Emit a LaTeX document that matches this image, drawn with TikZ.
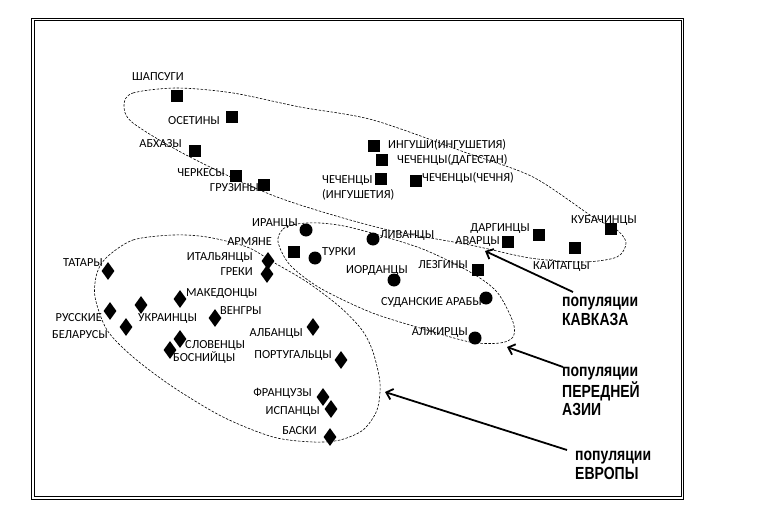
\documentclass[tikz,border=0pt]{standalone}
\usepackage{fontspec}
\setmainfont{Carlito}
\newfontfamily\calloutfont[FakeStretch=0.8]{Liberation Sans}
\usetikzlibrary{shapes.geometric,arrows.meta}

\begin{document}
\begin{tikzpicture}[x=1pt,y=-1pt,
  sq/.style={fill=black,rectangle,minimum size=12pt,inner sep=0pt},
  circ/.style={fill=black,circle,minimum size=13pt,inner sep=0pt},
  dia/.style={fill=black,diamond,minimum width=13pt,minimum height=18pt,inner sep=0pt},
  lab/.style={inner sep=0pt,font=\fontsize{12.3}{14}\selectfont,text height=7.9pt,text depth=0pt},
  labtwo/.style={inner sep=0pt,align=left,font=\fontsize{12.3}{15}\selectfont},
  hull/.style={dash pattern=on 2.5pt off 1.5pt,line width=0.6pt},
  callout/.style={inner sep=0pt,align=left,font=\calloutfont\bfseries\fontsize{17.5}{18.5}\selectfont},
  pointer/.style={line width=1.8pt,-{Straight Barb[length=6pt,width=11pt]}}]
  \useasboundingbox (0,0) rectangle (784,511);

  % frame
  \draw[line width=1pt] (31.5,18.5) rectangle (683.5,499);
  \draw[line width=1pt] (34,21) rectangle (681,496.5);

  % hulls
  \draw[hull] plot[smooth cycle] coordinates {(124,105) (133,93) (177,88) (233,93) (300,107)
    (373,120) (467,153) (533,177) (593,217) (617,230) (626,243) (617,257) (583,262)
    (530,258) (470,245) (380,228) (277,197) (190,157) (133,123)};
  \draw[hull] plot[smooth cycle] coordinates {(278,242) (283,229) (297,224) (320,223) (353,228)
    (420,248) (470,272) (497,292) (513,322) (513,337) (500,343) (470,342) (420,328)
    (370,312) (320,288) (290,265)};
  \draw[hull] plot[smooth cycle] coordinates {(107,257) (133,240) (173,235) (207,237) (247,247)
    (273,262) (307,282) (340,307) (362,330) (373,352) (380,383) (377,410) (363,430)
    (340,440) (313,442) (273,437) (223,417) (173,387) (133,357) (107,330) (95,297) (97,273)};

  % Caucasus
  \node[sq] (shapsug) at (177,96) {};
  \node[sq] (osetin) at (232,117) {};
  \node[sq] (abkhaz) at (195,151) {};
  \node[sq] (cherkes) at (236,176) {};
  \node[sq] (gruzin) at (264,185) {};
  \node[sq] (ingush) at (374,146) {};
  \node[sq] (chechDag) at (382,160) {};
  \node[sq] (chechIng) at (381,179) {};
  \node[sq] (chechChe) at (416,181) {};
  \node[sq] (dargin) at (539,235) {};
  \node[sq] (avar) at (508,242) {};
  \node[sq] (kubach) at (611,229) {};
  \node[sq] (kaitag) at (575,248) {};
  \node[sq] (lezgin) at (478,270) {};
  \node[sq] (armyan) at (294,252) {};

  \node[lab,anchor=west] (shapsugLab) at (132,77) {ШАПСУГИ};
  \node[lab,anchor=east] (osetinLab) at (220,121) {ОСЕТИНЫ};
  \node[lab,anchor=east] (abkhazLab) at (182,144) {АБХАЗЫ};
  \node[lab,anchor=east] (cherkesLab) at (225,173) {ЧЕРКЕСЫ};
  \node[lab,anchor=east] (gruzinLab) at (259,188) {ГРУЗИНЫ};
  \node[lab,anchor=west] (ingushLab) at (388,145) {ИНГУШИ(ИНГУШЕТИЯ)};
  \node[lab,anchor=west] (chechDagLab) at (397,160) {ЧЕЧЕНЦЫ(ДАГЕСТАН)};
  \node[labtwo,anchor=north west] (chechIngLab) at (322,175.5) {ЧЕЧЕНЦЫ\\(ИНГУШЕТИЯ)};
  \node[lab,anchor=west] (chechCheLab) at (422,178) {ЧЕЧЕНЦЫ(ЧЕЧНЯ)};
  \node[lab,anchor=east] (darginLab) at (530,228) {ДАРГИНЦЫ};
  \node[lab,anchor=east] (avarLab) at (500,241) {АВАРЦЫ};
  \node[lab,anchor=west] (kubachLab) at (571,220) {КУБАЧИНЦЫ};
  \node[lab,anchor=west] (kaitagLab) at (533,266) {КАЙТАГЦЫ};
  \node[lab,anchor=east] (lezginLab) at (468,265) {ЛЕЗГИНЫ};
  \node[lab,anchor=east] (armyanLab) at (272,242) {АРМЯНЕ};

  % Near East
  \node[circ] (iran) at (306,230) {};
  \node[circ] (livan) at (373,239) {};
  \node[circ] (turk) at (315,258) {};
  \node[circ] (iordan) at (394,280) {};
  \node[circ] (sudan) at (486,298) {};
  \node[circ] (alzhir) at (475,338) {};

  \node[lab,anchor=east] (iranLab) at (298,223) {ИРАНЦЫ};
  \node[lab,anchor=west] (livanLab) at (380,235) {ЛИВАНЦЫ};
  \node[lab,anchor=west] (turkLab) at (322,252) {ТУРКИ};
  \node[lab,anchor=west] (iordanLab) at (346,270) {ИОРДАНЦЫ};
  \node[lab,anchor=east] (sudanLab) at (482,302) {СУДАНСКИЕ АРАБЫ};
  \node[lab,anchor=east] (alzhirLab) at (468,332) {АЛЖИРЦЫ};

  % Europe
  \node[dia] (tatar) at (108,271) {};
  \node[dia] (italyan) at (268,261) {};
  \node[dia] (grek) at (267,274) {};
  \node[dia] (makedon) at (180,299) {};
  \node[dia] (russ) at (110,311) {};
  \node[dia] (ukrain) at (141,305) {};
  \node[dia] (vengr) at (215,318) {};
  \node[dia] (belarus) at (126,327) {};
  \node[dia] (alban) at (313,327) {};
  \node[dia] (sloven) at (180,339) {};
  \node[dia] (bosni) at (170,350) {};
  \node[dia] (portugal) at (341,360) {};
  \node[dia] (francuz) at (323,397) {};
  \node[dia] (ispan) at (331,409) {};
  \node[dia] (bask) at (330,437) {};

  \node[lab,anchor=east] (tatarLab) at (103,263) {ТАТАРЫ};
  \node[lab,anchor=east] (italyanLab) at (253,257) {ИТАЛЬЯНЦЫ};
  \node[lab,anchor=east] (grekLab) at (253,272) {ГРЕКИ};
  \node[lab,anchor=west] (makedonLab) at (186,293) {МАКЕДОНЦЫ};
  \node[lab,anchor=east] (russLab) at (102,318) {РУССКИЕ};
  \node[lab,anchor=west] (ukrainLab) at (138,318) {УКРАИНЦЫ};
  \node[lab,anchor=west] (vengrLab) at (220,311) {ВЕНГРЫ};
  \node[lab,anchor=east] (belarusLab) at (108,335) {БЕЛАРУСЫ};
  \node[lab,anchor=east] (albanLab) at (303,333) {АЛБАНЦЫ};
  \node[lab,anchor=west] (slovenLab) at (185,345) {СЛОВЕНЦЫ};
  \node[lab,anchor=west] (bosniLab) at (173,358) {БОСНИЙЦЫ};
  \node[lab,anchor=east] (portugalLab) at (332,355) {ПОРТУГАЛЬЦЫ};
  \node[lab,anchor=east] (francuzLab) at (312,393) {ФРАНЦУЗЫ};
  \node[lab,anchor=east] (ispanLab) at (320,411) {ИСПАНЦЫ};
  \node[lab,anchor=east] (baskLab) at (317,431) {БАСКИ};

  % group captions
  \node[callout,anchor=north west] (kavLab) at (562,297) {популяции\\КАВКАЗА};
  \node[callout,anchor=north west] (asiaLab) at (562,367) {популяции\\ПЕРЕДНЕЙ\\АЗИИ};
  \node[callout,anchor=north west] (eurLab) at (575,451) {популяции\\ЕВРОПЫ};

  \coordinate (kavTip) at (485,251);
  \coordinate (asiaTip) at (507,347);
  \coordinate (eurTip) at (385,392);
  \draw[pointer] ([xshift=11pt,yshift=5pt]kavLab.north west) -- (kavTip);
  \draw[pointer] ([xshift=1pt]asiaLab.north west) -- (asiaTip);
  \draw[pointer] ([xshift=-8pt,yshift=1pt]eurLab.north west) -- (eurTip);
\end{tikzpicture}
\end{document}
